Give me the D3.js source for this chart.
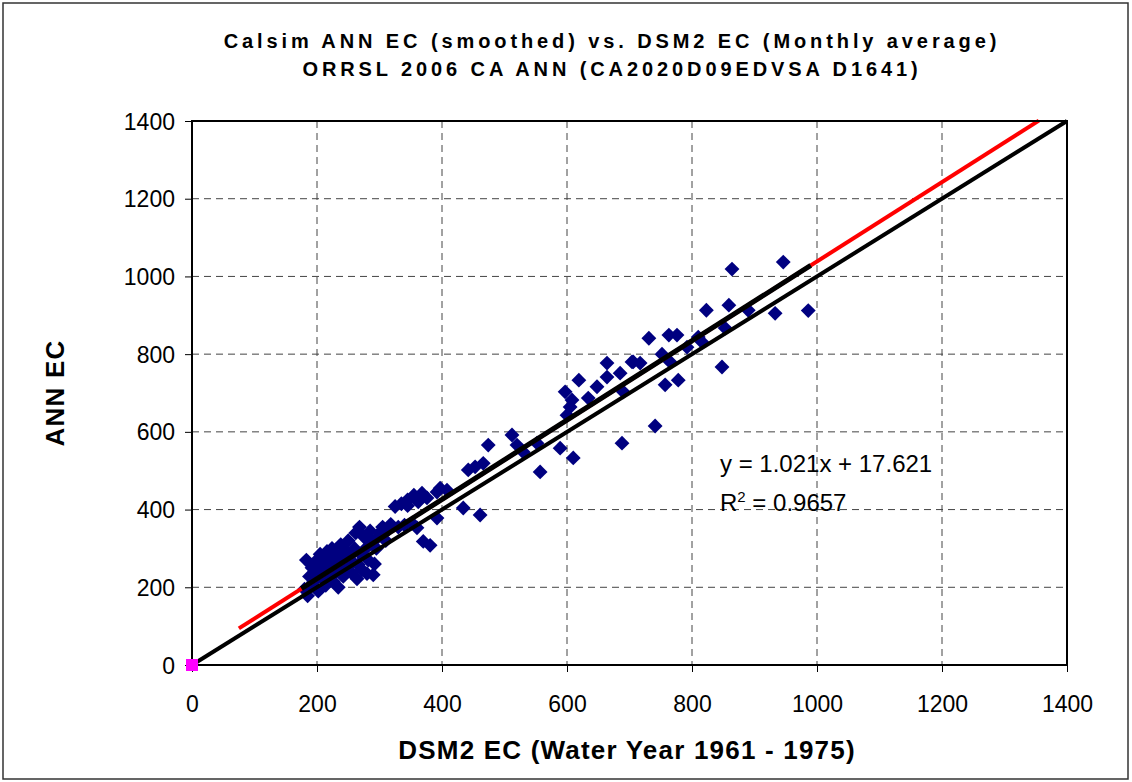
<!DOCTYPE html>
<html>
<head>
<meta charset="utf-8">
<script src="https://cdn.jsdelivr.net/npm/d3@7"></script>
<style>
  body { margin: 0; background: #fff; }
  svg text { font-family: "Liberation Sans", Arial, sans-serif; }
</style>
</head>
<body>
<svg id="canvas" width="1132" height="782"></svg>
<script>
// DSM2 EC (x) and Calsim ANN EC (y)
let dsm2 = [
  180,183,185,188,190,192,195,197,200,202,205,207,210,212,214,216,218,220,222,224,
  226,228,230,232,234,236,238,240,242,245,247,250,252,255,257,260,262,264,266,268,
  270,272,275,278,280,282,285,288,290,292,295,298,300,305,310,315,318,
  325,335,345,355,352,362,368,376,392,397,408,360,370,381,392,434,461,442,453,466,474,345,340,330,
  512,520,530,552,589,610,557,597,608,605,600,619,634,648,
  664,664,685,690,688,704,717,706,731,
  741,757,778,752,765,763,776,810,792,816,848,853,823,859,890,933,986,864,946
];
let annEC = [
  195,270,178,228,205,250,215,265,240,190,285,225,258,270,205,292,245,230,275,300,
  215,262,240,283,200,255,310,270,228,295,250,320,280,238,265,300,340,222,258,355,
  285,245,330,300,235,270,345,318,232,260,300,330,340,355,320,350,362,
  408,415,425,437,365,420,442,430,445,455,450,353,318,308,378,404,386,502,510,519,566,410,360,355,
  592,566,548,571,558,533,497,703,682,664,643,733,687,716,
  777,741,751,703,571,780,777,780,841,
  615,721,733,800,780,849,849,844,818,831,767,867,913,926,913,905,912,1019,1037
];

// lines: regression (red, extended), regression over data range (black), 1:1 line (black)
let trendX = [75, 1355];
let trendY = [94.2, 1401];
let fitX = [175, 990];
let fitY = [196.3, 1028.4];
let oneToOneX = [0, 1400];
let oneToOneY = [0, 1400];

let xTicks = [0, 200, 400, 600, 800, 1000, 1200, 1400];
let yTicks = [0, 200, 400, 600, 800, 1000, 1200, 1400];

let titleLines = [
  'Calsim ANN EC (smoothed) vs. DSM2 EC (Monthly average)',
  'ORRSL 2006 CA ANN (CA2020D09EDVSA D1641)'
];
let xTitle = 'DSM2 EC (Water Year 1961 - 1975)';
let yTitle = 'ANN EC';

let canvas = d3.select('#canvas');

let plotLeft = 192, plotRight = 1067, plotTop = 121, plotBottom = 665;

let xScale = d3.scaleLinear().domain([0, 1400]).range([plotLeft, plotRight]);
let yScale = d3.scaleLinear().domain([0, 1400]).range([plotBottom, plotTop]);

// outer border
canvas.append('rect')
    .attr('x', 3).attr('y', 3)
    .attr('width', 1125).attr('height', 776)
    .attr('fill', 'none')
    .attr('stroke', '#333')
    .attr('stroke-width', 1.5);

// title
canvas.selectAll('.title')
    .data(titleLines)
    .enter()
    .append('text')
    .attr('class', 'title')
    .attr('x', 612)
    .attr('y', (d, i) => 48 + i * 28)
    .attr('text-anchor', 'middle')
    .style('font-size', '20px')
    .style('font-weight', 'bold')
    .style('letter-spacing', '3.9px')
    .text(d => d);

// grid
let grid = canvas.append('g');
grid.selectAll('.vgrid')
    .data(xTicks.slice(1, -1))
    .enter()
    .append('line')
    .attr('x1', d => xScale(d)).attr('x2', d => xScale(d))
    .attr('y1', plotTop).attr('y2', plotBottom)
    .attr('stroke', '#444').attr('stroke-width', 1)
    .attr('stroke-dasharray', '7,5');
grid.selectAll('.hgrid')
    .data(yTicks.slice(1, -1))
    .enter()
    .append('line')
    .attr('x1', plotLeft).attr('x2', plotRight)
    .attr('y1', d => yScale(d)).attr('y2', d => yScale(d))
    .attr('stroke', '#444').attr('stroke-width', 1)
    .attr('stroke-dasharray', '7,5');

// axes
let xAxis = d3.axisBottom(xScale).tickValues(xTicks).tickFormat(d3.format('d'))
    .tickSize(7).tickPadding(24);
let yAxis = d3.axisLeft(yScale).tickValues(yTicks).tickFormat(d3.format('d'))
    .tickSize(7).tickPadding(10);

canvas.append('g')
    .attr('transform', 'translate(0,' + plotBottom + ')')
    .call(xAxis)
    .call(g => g.select('.domain').remove())
    .call(g => g.selectAll('line').attr('stroke', '#000'))
    .call(g => g.selectAll('text').style('font-size', '23px').attr('fill', '#000')
        .style('font-family', '"Liberation Sans", Arial, sans-serif'));

canvas.append('g')
    .attr('transform', 'translate(' + plotLeft + ',0)')
    .call(yAxis)
    .call(g => g.select('.domain').remove())
    .call(g => g.selectAll('line').attr('stroke', '#000'))
    .call(g => g.selectAll('text').style('font-size', '23px').attr('fill', '#000')
        .attr('dy', '0.35em')
        .style('font-family', '"Liberation Sans", Arial, sans-serif'));

// points
let points = dsm2.map((x, i) => ({ x: x, y: annEC[i] }));
let diamond = d3.symbol().type(d3.symbolSquare).size(110);

canvas.append('g')
    .selectAll('path')
    .data(points)
    .enter()
    .append('path')
    .attr('d', diamond)
    .attr('transform', d => 'translate(' + xScale(d.x) + ',' + yScale(d.y) + ') rotate(45)')
    .attr('fill', '#000080');

// lines
let line = d3.line().x(d => xScale(d[0])).y(d => yScale(d[1]));

canvas.append('path')
    .datum(trendX.map((x, i) => [x, trendY[i]]))
    .attr('d', line)
    .attr('stroke', '#ff0000').attr('stroke-width', 4)
    .attr('fill', 'none');

canvas.append('path')
    .datum(fitX.map((x, i) => [x, fitY[i]]))
    .attr('d', line)
    .attr('stroke', '#000').attr('stroke-width', 5)
    .attr('fill', 'none');

canvas.append('path')
    .datum(oneToOneX.map((x, i) => [x, oneToOneY[i]]))
    .attr('d', line)
    .attr('stroke', '#000').attr('stroke-width', 4)
    .attr('fill', 'none');

// plot frame
canvas.append('rect')
    .attr('x', plotLeft).attr('y', plotTop)
    .attr('width', plotRight - plotLeft).attr('height', plotBottom - plotTop)
    .attr('fill', 'none')
    .attr('stroke', '#000')
    .attr('stroke-width', 2);

// magenta marker at origin
canvas.append('rect')
    .attr('x', xScale(0) - 6).attr('y', yScale(0) - 6)
    .attr('width', 12).attr('height', 12)
    .attr('fill', '#ff00ff');

// regression label
let eq = canvas.append('g').style('font-size', '24px');
eq.append('text')
    .attr('x', 720).attr('y', 472)
    .text('y = 1.021x + 17.621');
let r2 = eq.append('text')
    .attr('x', 720).attr('y', 511);
r2.append('tspan').text('R');
r2.append('tspan').attr('dy', -9).style('font-size', '15px').text('2');
r2.append('tspan').attr('dy', 9).text(' = 0.9657');

// axis titles
canvas.append('text')
    .attr('x', 627).attr('y', 759)
    .attr('text-anchor', 'middle')
    .style('font-size', '26px')
    .style('font-weight', 'bold')
    .style('letter-spacing', '1.2px')
    .text(xTitle);

canvas.append('text')
    .attr('transform', 'translate(64,' + ((plotTop + plotBottom) / 2) + ') rotate(-90)')
    .attr('text-anchor', 'middle')
    .style('font-size', '26px')
    .style('font-weight', 'bold')
    .style('letter-spacing', '1.2px')
    .text(yTitle);
</script>
</body>
</html>
